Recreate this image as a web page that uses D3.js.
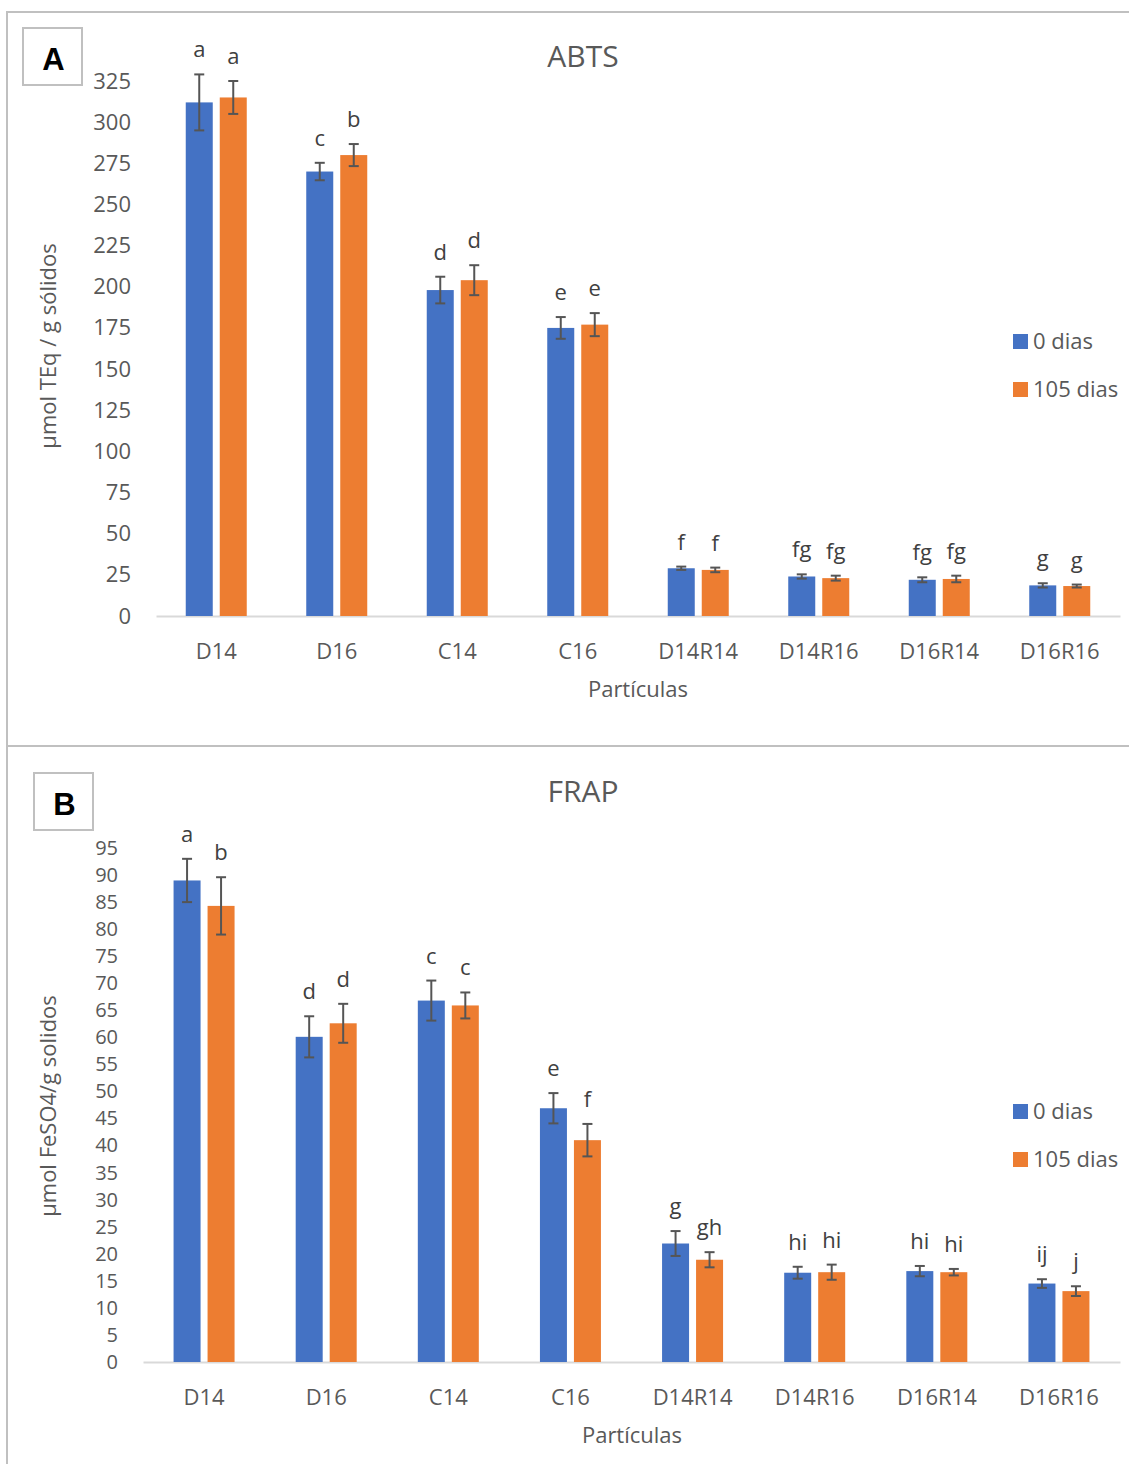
<!DOCTYPE html>
<html>
<head>
<meta charset="utf-8">
<script src="https://cdn.jsdelivr.net/npm/d3@7"></script>
<style>
  html, body { margin: 0; padding: 0; background: #fff; }
  svg { display: block; font-family: "Open Sans", sans-serif; }
</style>
</head>
<body>
<svg id="fig" width="1129" height="1464"></svg>
<script>
// Particle types on the x axis
const categories = ["D14", "D16", "C14", "C16", "D14R14", "D14R16", "D16R14", "D16R16"];
const seriesNames = ["0 dias", "105 dias"];

// ABTS (µmol TEq / g sólidos)
const abts0 = [312, 270, 198, 175, 29, 24, 22, 18.6];
const abts0Err = [17, 5.3, 8.1, 6.6, 1.0, 1.3, 1.5, 1.3];
const abts105 = [315, 280, 204, 177, 28, 23, 22.5, 18.2];
const abts105Err = [10, 6.7, 9.1, 7.0, 1.4, 1.5, 2.0, 0.9];
const abts0Letters = ["a", "c", "d", "e", "f", "fg", "fg", "g"];
const abts105Letters = ["a", "b", "d", "e", "f", "fg", "fg", "g"];
const abtsTicks = d3.range(0, 326, 25);

// FRAP (µmol FeSO4 / g sólidos)
const frap0 = [89, 60.1, 66.8, 46.9, 21.9, 16.5, 16.8, 14.5];
const frap0Err = [4.0, 3.8, 3.7, 2.8, 2.3, 1.1, 0.95, 0.8];
const frap105 = [84.3, 62.6, 65.9, 41.0, 18.9, 16.6, 16.6, 13.1];
const frap105Err = [5.3, 3.6, 2.4, 3.0, 1.4, 1.4, 0.6, 0.9];
const frap0Letters = ["a", "d", "c", "e", "g", "hi", "hi", "ij"];
const frap105Letters = ["b", "d", "c", "f", "gh", "hi", "hi", "j"];
const frapTicks = d3.range(0, 96, 5);

const colors = ["#4472C4", "#ED7D31"];
const textColor = "#595959";
const frameColor = "#c0c0c0";

const svg = d3.select("#fig");

// outer frames of the two panels
const frame = svg.append("g").attr("fill", "none").attr("stroke", frameColor).attr("stroke-width", 2);
frame.append("path").attr("d", "M1129,12 H7 V1464");
frame.append("path").attr("d", "M7,746 H1129");

function drawPanel(cfg) {
  const g = svg.append("g");
  const x = d3.scaleBand().domain(categories).range([cfg.x0, 1120]).paddingInner(0).paddingOuter(0);
  const y = d3.scaleLinear().domain([0, cfg.yMax]).range([cfg.yBase, cfg.yTop]);
  const barW = 27, off = 17;

  // panel letter box
  g.append("rect").attr("x", cfg.box[0]).attr("y", cfg.box[1]).attr("width", 59).attr("height", 57)
    .attr("fill", "#fff").attr("stroke", frameColor).attr("stroke-width", 2);
  g.append("text").attr("x", cfg.box[0] + 30.5).attr("y", cfg.box[1] + 42)
    .attr("text-anchor", "middle").attr("font-family", "Liberation Sans, Arial, sans-serif")
    .attr("font-weight", "bold").attr("font-size", 31).attr("fill", "#000").text(cfg.letter);

  // title
  g.append("text").attr("x", 583).attr("y", cfg.titleY).attr("text-anchor", "middle")
    .attr("font-size", 30).attr("fill", textColor).text(cfg.title);

  // y axis labels (no line)
  const yAxis = g.append("g").attr("transform", `translate(${cfg.tickX},0)`)
    .call(d3.axisLeft(y).tickValues(cfg.ticks).tickSize(0).tickPadding(0));
  yAxis.select(".domain").remove();
  yAxis.selectAll("text").attr("font-size", cfg.tickFont).attr("fill", textColor).attr("font-family", "Open Sans, sans-serif");

  // x axis
  const xAxis = g.append("g").attr("transform", `translate(0,${cfg.yBase})`)
    .call(d3.axisBottom(x).tickSize(0).tickSizeOuter(0).tickPadding(0));
  xAxis.select(".domain").attr("stroke", "#d9d9d9").attr("stroke-width", 2);
  xAxis.selectAll("text").attr("font-size", 22).attr("fill", textColor)
    .attr("font-family", "Open Sans, sans-serif").attr("dy", null).attr("y", cfg.xLabelDy);

  // x axis title
  g.append("text").attr("x", cfg.xTitleX).attr("y", cfg.xTitleY).attr("text-anchor", "middle")
    .attr("font-size", 22).attr("fill", textColor).text("Partículas");

  // y axis title
  g.append("text").attr("transform", `translate(56,${cfg.yTitleY}) rotate(-90)`)
    .attr("text-anchor", "middle").attr("font-size", 22).attr("fill", textColor).text(cfg.yTitle);

  const series = [
    { vals: cfg.s0, err: cfg.e0, lab: cfg.l0, dx: -off, color: colors[0] },
    { vals: cfg.s1, err: cfg.e1, lab: cfg.l1, dx: off, color: colors[1] }
  ];

  series.forEach(s => {
    const rows = categories.map((c, i) => ({ c, v: s.vals[i], e: s.err[i], l: s.lab[i] }));
    const cx = d => x(d.c) + x.bandwidth() / 2 + s.dx;

    g.append("g").selectAll("rect").data(rows).join("rect")
      .attr("x", d => cx(d) - barW / 2).attr("width", barW)
      .attr("y", d => y(d.v)).attr("height", d => y(0) - y(d.v))
      .attr("fill", s.color);

    const eb = g.append("g").attr("stroke", "#555").attr("stroke-width", 2);
    eb.selectAll("line.v").data(rows).join("line").attr("class", "v")
      .attr("x1", cx).attr("x2", cx).attr("y1", d => y(d.v + d.e)).attr("y2", d => y(d.v - d.e));
    eb.selectAll("line.t").data(rows).join("line").attr("class", "t")
      .attr("x1", d => cx(d) - 5).attr("x2", d => cx(d) + 5)
      .attr("y1", d => y(d.v + d.e)).attr("y2", d => y(d.v + d.e));
    eb.selectAll("line.b").data(rows).join("line").attr("class", "b")
      .attr("x1", d => cx(d) - 5).attr("x2", d => cx(d) + 5)
      .attr("y1", d => y(d.v - d.e)).attr("y2", d => y(d.v - d.e));

    g.append("g").selectAll("text").data(rows).join("text")
      .attr("x", cx).attr("y", d => y(d.v + d.e) - 17)
      .attr("text-anchor", "middle").attr("font-size", 22).attr("fill", "#404040")
      .text(d => d.l);
  });

  // legend
  const lg = g.append("g");
  seriesNames.forEach((n, i) => {
    const ly = cfg.legendY + i * 48;
    lg.append("rect").attr("x", 1013).attr("y", ly).attr("width", 15).attr("height", 15).attr("fill", colors[i]);
    lg.append("text").attr("x", 1033).attr("y", ly + 15).attr("font-size", 22).attr("fill", textColor).text(n);
  });
}

drawPanel({
  letter: "A", box: [23, 28], title: "ABTS", titleY: 67,
  x0: 156, yBase: 616, yTop: 81, yMax: 325, ticks: abtsTicks, tickX: 131, tickFont: 22,
  xLabelDy: 43, xTitleX: 638, xTitleY: 697,
  yTitle: "µmol TEq / g sólidos", yTitleY: 346,
  s0: abts0, e0: abts0Err, l0: abts0Letters, s1: abts105, e1: abts105Err, l1: abts105Letters,
  legendY: 334
});

drawPanel({
  letter: "B", box: [34, 773], title: "FRAP", titleY: 802,
  x0: 143, yBase: 1362, yTop: 848, yMax: 95, ticks: frapTicks, tickX: 118, tickFont: 20,
  xLabelDy: 43, xTitleX: 632, xTitleY: 1443,
  yTitle: "µmol FeSO4/g solidos", yTitleY: 1106,
  s0: frap0, e0: frap0Err, l0: frap0Letters, s1: frap105, e1: frap105Err, l1: frap105Letters,
  legendY: 1104
});
</script>
</body>
</html>
